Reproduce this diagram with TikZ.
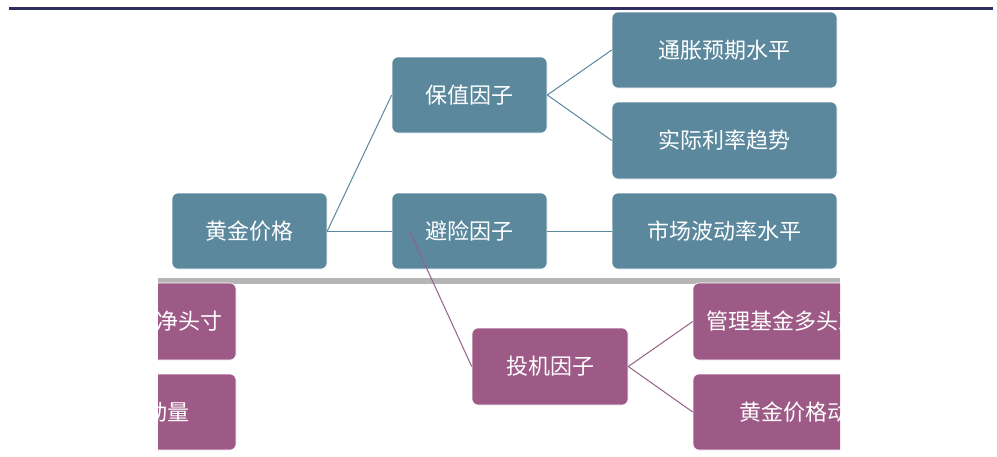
\documentclass[tikz,border=0pt]{standalone}
\usepackage{fontspec}
\newfontfamily\cjk{Noto Sans CJK SC}
\definecolor{tealbox}{HTML}{5B889D}
\definecolor{purpbox}{HTML}{9E5A86}
\definecolor{rulec}{HTML}{2E2E5E}
\definecolor{stripc}{HTML}{B5B5B5}
\tikzset{
  tbox/.style={draw=white, line width=0.6pt, rounded corners=6pt, fill=tealbox, text=white,
    font=\cjk\fontsize{22}{26}\selectfont, inner sep=0pt, anchor=center},
  pbox/.style={tbox, fill=purpbox},
  tlink/.style={draw=tealbox, line width=1pt},
  plink/.style={draw=purpbox!85!tealbox, line width=1pt},
}
\begin{document}
\begin{tikzpicture}[x=1pt,y=-1pt]
\useasboundingbox (0,0) rectangle (997,456);
\fill[white] (0,0) rectangle (997,456);
% top rule
\fill[rulec] (9,7) rectangle (993,10);
% grey strip
\fill[stripc] (158,278) rectangle (840,284);

% teal nodes
\node[tbox, minimum width=155, minimum height=76] (root) at (249.5,231) {黄金价格};
\node[tbox, minimum width=155, minimum height=76] (keep) at (469.5,95) {保值因子};
\node[tbox, minimum width=155, minimum height=76] (hedge) at (469.5,231) {避险因子};
\node[tbox, minimum width=225, minimum height=76] (infl) at (724.5,50) {通胀预期水平};
\node[tbox, minimum width=225, minimum height=77] (rate) at (724.5,140.5) {实际利率趋势};
\node[tbox, minimum width=225, minimum height=76] (vol) at (724.5,231) {市场波动率水平};

% purple nodes
\node[pbox, minimum width=156, minimum height=77] (spec) at (550,366.5) {投机因子};
\begin{scope}
  \clip (600,270) rectangle (840,456);
  \node[pbox, minimum width=225, minimum height=77] (cftc) at (805.5,321.5) {管理基金多头净头寸};
  \node[pbox, minimum width=225, minimum height=76] (mom) at (805.5,412) {黄金价格动量};
\end{scope}
\begin{scope}
  \clip (158,270) rectangle (300,456);
  \node[pbox, minimum width=225, minimum height=77] (cftcw) at (123.5,321.5) {管理基金多头净头寸};
  \node[pbox, minimum width=225, minimum height=76] (momw) at (123.5,412) {黄金价格动量};
\end{scope}

% connectors
\coordinate (fork) at (410,232);
\draw[tlink] (root.east) -- (keep.west);
\draw[tlink] (keep.east) -- (infl.west);
\draw[tlink] (keep.east) -- (rate.west);
\draw[tlink] (root.east) -- (hedge.west);
\draw[tlink] (hedge.east) -- (vol.west);
\draw[plink] (fork) -- (spec.west);
\draw[plink] (spec.east) -- (cftc.west);
\draw[plink] (spec.east) -- (mom.west);
\end{tikzpicture}
\end{document}
